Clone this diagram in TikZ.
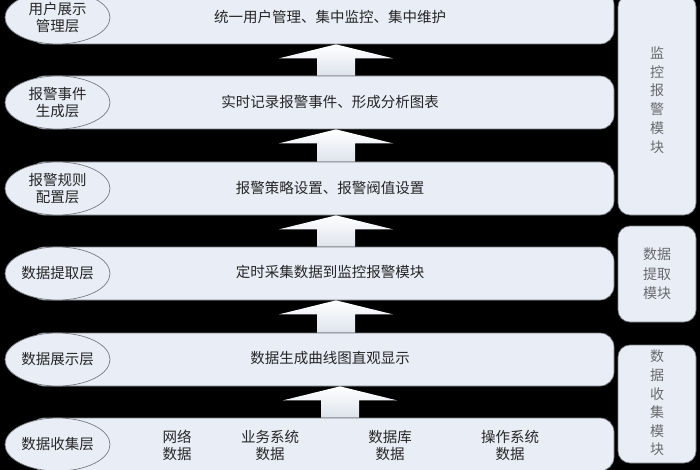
\documentclass[tikz,border=0pt]{standalone}
\usepackage{fontspec}
\newfontfamily\cjk{Noto Sans CJK SC}
\usetikzlibrary{calc,shapes.geometric}
\definecolor{layerfill}{RGB}{232,237,246}
\definecolor{layerline}{RGB}{120,124,130}
\definecolor{modtext}{RGB}{105,105,110}
\definecolor{arrbot}{RGB}{222,227,236}
\tikzset{
  x=1pt,y=-1pt,
  layerbox/.style={draw=layerline,line width=0.7pt,fill=layerfill,rounded corners=14pt,
    minimum width=584pt,minimum height=53pt,inner sep=0pt},
  tagell/.style={ellipse,draw=layerline,line width=0.7pt,fill=layerfill,
    minimum width=105pt,minimum height=53pt,inner sep=0pt,align=center,
    font=\cjk\fontsize{14.5}{17}\selectfont,text=black!85},
  laytext/.style={font=\cjk\fontsize{14.5}{17}\selectfont,text=black!85,align=center,inner sep=0pt},
  modbox/.style={draw=layerline,line width=0.7pt,fill=layerfill,rounded corners=12pt,
    minimum width=78pt,inner sep=0pt,align=center,text=modtext},
  blockarrow/.style={top color=white,bottom color=arrbot,draw=none}
}
\begin{document}
\begin{tikzpicture}
\fill[black] (0,0) rectangle (700,470);
\useasboundingbox (0,0) rectangle (700,470);

% layers
\node[layerbox] (L1) at (322,17.5) {};
\node[layerbox] (L2) at (322,102.5) {};
\node[layerbox] (L3) at (322,188.5) {};
\node[layerbox] (L4) at (322,273.5) {};
\node[layerbox] (L5) at (322,359.5) {};
\node[layerbox] (L6) at (322,444.5) {};

% block arrows
\foreach \u/\l/\cx in {L1/L2/336,L2/L3/336,L3/L4/336,L4/L5/336,L5/L6/340}{
  \path (\u.south -| \cx,0) coordinate (tip);
  \path[blockarrow] (tip) -- ++(57,14) -- ++(-38,0) coordinate (sr)
     -- (sr |- \l.north) -- ++(-38,0) coordinate (sl)
     -- ($(sl |- tip)+(0,14)$) -- ++(-38,0) -- cycle;
}

% left tags
\node[tagell] (E1) at (57.5,17.5) {用户展示\\管理层};
\node[tagell] (E2) at (57.5,102.5) {报警事件\\生成层};
\node[tagell] (E3) at (57.5,188.5) {报警规则\\配置层};
\node[tagell] (E4) at (57.5,273.5) {数据提取层};
\node[tagell] (E5) at (57.5,359.5) {数据展示层};
\node[tagell] (E6) at (57.5,444.5) {数据收集层};

% layer texts
\node[laytext] (T1) at (330,17) {统一用户管理、集中监控、集中维护};
\node[laytext] (T2) at (330,102) {实时记录报警事件、形成分析图表};
\node[laytext] (T3) at (330,188) {报警策略设置、报警阀值设置};
\node[laytext] (T4) at (330,272) {定时采集数据到监控报警模块};
\node[laytext] (T5) at (330,358) {数据生成曲线图直观显示};
\node[laytext] (D1) at (177,445) {网络\\数据};
\node[laytext] (D2) at (270,445) {业务系统\\数据};
\node[laytext] (D3) at (390,445) {数据库\\数据};
\node[laytext] (D4) at (510,445) {操作系统\\数据};

% right modules
\node[modbox,minimum height=220pt,font=\cjk\fontsize{14}{18.7}\selectfont] (M1) at (657,105) {};
\node[font=\cjk\fontsize{14}{18.7}\selectfont,text=modtext,align=center,inner sep=0pt] (M1t) at (657,100) {监\\控\\报\\警\\模\\块};
\node[modbox,minimum height=96pt,font=\cjk\fontsize{14}{19.5}\selectfont] (M2) at (657,274) {数据\\提取\\模块};
\node[modbox,minimum height=118pt] (M3) at (657,404) {};
\node[font=\cjk\fontsize{14}{18.6}\selectfont,text=modtext,align=center,inner sep=0pt] (M3t) at (657,403) {数\\据\\收\\集\\模\\块};
\end{tikzpicture}
\end{document}
